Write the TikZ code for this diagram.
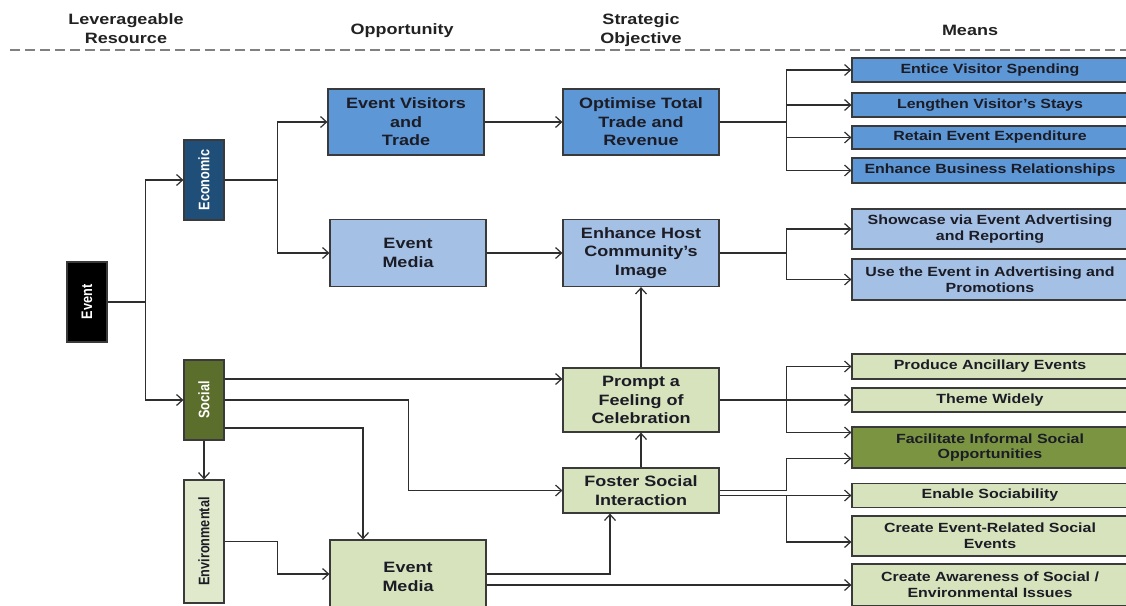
\documentclass[tikz,border=0pt]{standalone}
\usepackage{fontspec}
\usepackage{graphicx}
\setmainfont{Liberation Sans}[FakeStretch=1.2]
\newfontfamily\resfont{Liberation Sans}
\usetikzlibrary{arrows.meta}

\definecolor{boxline}{HTML}{3A3A3A}
\definecolor{linkgray}{HTML}{2E2E2E}
\definecolor{boxtext}{HTML}{1C1C26}
\definecolor{headtext}{HTML}{222222}
\definecolor{econblue}{HTML}{1F4E79}
\definecolor{midblue}{HTML}{5D97D5}
\definecolor{paleblue}{HTML}{A4C1E5}
\definecolor{socialgreen}{HTML}{5C6E2C}
\definecolor{darkolive}{HTML}{7A9442}
\definecolor{palegreen}{HTML}{D7E3BC}
\definecolor{envgreen}{HTML}{E0E9CB}

\newcommand{\uplabel}[1]{\rotatebox{90}{\scalebox{1}[1.2]{#1}}}

\begin{document}
\begin{tikzpicture}[x=1pt, y=-1pt,
    box/.style={draw=boxline, line width=1.2pt, align=center, inner sep=0pt,
      text=boxtext, font=\bfseries\fontsize{15}{18.5}\selectfont},
    oppbox/.style={box, minimum width=156pt},
    meansbox/.style={box, minimum width=276pt,
      font=\bfseries\fontsize{13.3}{15.7}\selectfont},
    resbox/.style={box, minimum width=40pt, minimum height=80pt,
      font=\resfont\bfseries\fontsize{12.7}{15}\selectfont},
    head/.style={align=center, text=headtext,
      font=\bfseries\fontsize{15}{19}\selectfont},
    link/.style={draw=linkgray, line width=1.2pt},
    flow/.style={link, -{Straight Barb[length=6pt, width=11pt]}},
    sepline/.style={draw=gray, line width=1.5pt, dash pattern=on 10pt off 5pt}]

    \useasboundingbox (0,0) rectangle (1126,605);
    \clip (0,0) rectangle (1126,605);
    \fill[white] (0,0) rectangle (1126,605);

    \node[head] (hres) at (126,28.5) {Leverageable\\Resource};
    \node[head] (hopp) at (402,31) {Opportunity};
    \node[head] (hobj) at (641,30) {Strategic\\Objective};
    \node[head] (hmeans) at (970,30) {Means};
    \draw[sepline] (10,50) -- (1126,50);

    \node[resbox, fill=black, text=white] (event) at (87,302) {\uplabel{Event}};
    \node[resbox, fill=econblue, text=white] (econ) at (204,180) {\uplabel{Economic}};
    \node[resbox, fill=socialgreen, text=white] (social) at (204,400) {\uplabel{Social}};
    \node[resbox, fill=envgreen, minimum height=123pt] (env) at (204,541.5) {\uplabel{Environmental}};

    \node[oppbox, fill=midblue, minimum height=66pt] (visitors) at (406,122) {Event Visitors\\and\\Trade};
    \node[oppbox, fill=paleblue, minimum height=67pt] (bluemedia) at (408,253) {Event\\Media};
    \node[oppbox, fill=palegreen, minimum height=74pt] (greenmedia) at (408,577) {Event\\Media};

    \node[oppbox, fill=midblue, minimum height=66pt] (tradeobj) at (641,122) {Optimise Total\\Trade and\\Revenue};
    \node[oppbox, fill=paleblue, minimum height=67pt] (imageobj) at (641,253) {Enhance Host\\Community’s\\Image};
    \node[oppbox, fill=palegreen, minimum height=64pt] (celebobj) at (641,400) {Prompt a\\Feeling of\\Celebration};
    \node[oppbox, fill=palegreen, minimum height=45pt] (socialobj) at (641,490.5) {Foster Social\\Interaction};

    \node[meansbox, fill=midblue, minimum height=24pt] (entice) at (990,70) {Entice Visitor Spending};
    \node[meansbox, fill=midblue, minimum height=24pt] (lengthen) at (990,105) {Lengthen Visitor’s Stays};
    \node[meansbox, fill=midblue, minimum height=23pt] (retain) at (990,137.5) {Retain Event Expenditure};
    \node[meansbox, fill=midblue, minimum height=25pt] (business) at (990,170.5) {Enhance Business Relationships};
    \node[meansbox, fill=paleblue, minimum height=40pt] (showcase) at (990,229) {Showcase via Event Advertising\\and Reporting};
    \node[meansbox, fill=paleblue, minimum height=41pt] (promote) at (990,279.5) {Use the Event in Advertising and\\Promotions};
    \node[meansbox, fill=palegreen, minimum height=25pt] (ancillary) at (990,366.5) {Produce Ancillary Events};
    \node[meansbox, fill=palegreen, minimum height=24pt] (theme) at (990,400) {Theme Widely};
    \node[meansbox, fill=darkolive, minimum height=41pt] (informal) at (990,447.5) {Facilitate Informal Social\\Opportunities};
    \node[meansbox, fill=palegreen, minimum height=24pt] (sociable) at (990,495.5) {Enable Sociability};
    \node[meansbox, fill=palegreen, minimum height=40pt] (relatedevents) at (990,536) {Create Event-Related Social\\Events};
    \node[meansbox, fill=palegreen, minimum height=42pt] (awareness) at (990,585) {Create Awareness of Social /\\Environmental Issues};

    \draw[link] (event.east) -- ++(38,0) coordinate (eventfork);
    \draw[flow] (eventfork) |- (econ.west);
    \draw[flow] (eventfork) |- (social.west);

    \draw[link] (econ.east) -- ++(53,0) coordinate (econfork);
    \draw[flow] (econfork) |- (visitors.west);
    \draw[flow] (econfork) |- (bluemedia.west);
    \draw[flow] (visitors) -- (tradeobj);
    \draw[flow] (bluemedia) -- (imageobj);

    \draw[flow] ([yshift=21pt]social.east) -- ([yshift=21pt]celebobj.west);
    \draw[flow] (social.east) -- ++(184,0) |- (socialobj.west);
    \draw[flow] ([yshift=-28pt]social.east) -| ([xshift=-45pt]greenmedia.north);
    \draw[flow] (social) -- (env);
    \draw[flow] (env.east) -- ++(53,0) |- ([yshift=3pt]greenmedia.west);
    \draw[flow] ([yshift=3pt]greenmedia.east) -| ([xshift=-31pt]socialobj.south);
    \draw[flow] ([yshift=-8pt]greenmedia.east) -- (awareness.west);

    \draw[flow] (socialobj) -- (celebobj);
    \draw[flow] (celebobj) -- (imageobj);

    \draw[link] (tradeobj.east) -- ++(67,0) coordinate (tradefork);
    \foreach \m in {entice,lengthen,retain,business}
      \draw[flow] (tradefork) |- (\m.west);
    \draw[link] (imageobj.east) -- ++(67,0) coordinate (imagefork);
    \foreach \m in {showcase,promote}
      \draw[flow] (imagefork) |- (\m.west);
    \draw[link] (celebobj.east) -- ++(67,0) coordinate (celebfork);
    \foreach \m in {ancillary,theme}
      \draw[flow] (celebfork) |- (\m.west);
    \draw[flow] (celebfork) |- ([yshift=15pt]informal.west);
    \draw[flow] (socialobj.east) -- ++(67,0) |- ([yshift=-11pt]informal.west);
    \draw[flow] ([yshift=-5pt]socialobj.east) -- (sociable.west);
    \draw[flow] ([yshift=-5pt]socialobj.east) -- ++(67,0) |- ([yshift=-6pt]relatedevents.west);
\end{tikzpicture}
\end{document}
